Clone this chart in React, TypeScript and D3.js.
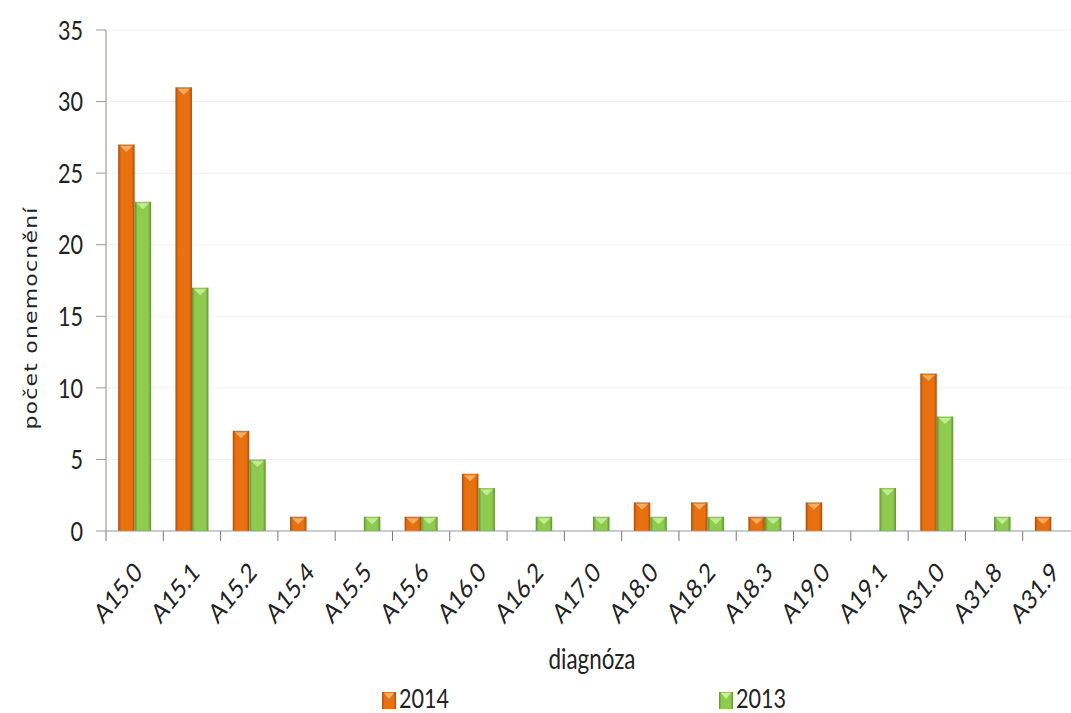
import React from "react";
import * as d3 from "d3";

const categories = ["A15.0","A15.1","A15.2","A15.4","A15.5","A15.6","A16.0","A16.2","A17.0","A18.0","A18.2","A18.3","A19.0","A19.1","A31.0","A31.8","A31.9"];
const values2014 = [27,31,7,1,0,1,4,0,0,2,2,1,2,0,11,0,1];
const values2013 = [23,17,5,0,1,1,3,1,1,1,1,1,0,3,8,1,0];
const yTicks = [0,5,10,15,20,25,30,35];
const seriesNames = ["2014","2013"];

const W = 1071, H = 713;
const left = 106, right = 1080, top = 30, bottom = 531;
const SX = 0.8;

export default function App() {
  const x = d3.scaleBand<string>().domain(categories).range([left, right]).paddingInner(0).paddingOuter(0);
  const y = d3.scaleLinear().domain([0, 35]).range([bottom, top]);
  const bw = 16.5;
  const series = [
    { name: seriesNames[0], values: values2014, id: "or", edge: "#A94E0C", mid: "#E8700F", light: "#F7B26A" },
    { name: seriesNames[1], values: values2013, id: "gr", edge: "#5F9331", mid: "#8FCB4E", light: "#C8F09A" },
  ];
  const font = "Lato, sans-serif";
  return (
    <svg width={W} height={H} style={{ position: "absolute", left: 0, top: 0, background: "#fff" }}>
      <defs>
        {series.map(s => (
          <linearGradient key={s.id} id={"g" + s.id} x1="0" x2="1" y1="0" y2="0">
            <stop offset="0" stopColor={s.edge} />
            <stop offset="0.18" stopColor={s.mid} />
            <stop offset="0.82" stopColor={s.mid} />
            <stop offset="1" stopColor={s.edge} />
          </linearGradient>
        ))}
      </defs>
      <rect x={0} y={0} width={W} height={H} fill="#fff" />
      {yTicks.map(t => (
        <g key={t}>
          {t > 0 && <line x1={left} x2={W} y1={y(t)} y2={y(t)} stroke="#F0F0F0" strokeWidth={1} />}
          <line x1={96} x2={left} y1={y(t)} y2={y(t)} stroke="#999" strokeWidth={1} />
          <text transform={`translate(83,${y(t)}) scale(${SX},1)`} dy="0.36em" textAnchor="end" fontFamily={font} fontSize={27} fill="#222">{t}</text>
        </g>
      ))}
      {categories.map((c, i) => {
        const x0 = x(c)!;
        const cx = x0 + x.bandwidth() / 2;
        return (
          <g key={c}>
            {series.map((s, si) => {
              const v = s.values[i];
              if (v <= 0) return null;
              const bx = cx - bw + si * bw;
              const by = y(v);
              const h = bottom - by;
              const tri = Math.min(6, h / 2);
              return (
                <g key={s.id}>
                  <rect x={bx} y={by} width={bw} height={h} fill={`url(#g${s.id})`} />
                  <polygon points={`${bx + 2},${by + 1.5} ${bx + bw - 2},${by + 1.5} ${bx + bw / 2},${by + 1.5 + tri}`} fill={s.light} opacity={0.9} />
                </g>
              );
            })}
            <line x1={x0} x2={x0} y1={bottom} y2={bottom + 10} stroke="#777" strokeWidth={1} />
            <text transform={`translate(${cx + 9},${bottom + 43}) scale(${SX},1) rotate(-45)`} textAnchor="end" fontFamily={font} fontSize={27} fill="#222">{c}</text>
          </g>
        );
      })}
      <line x1={left} x2={right} y1={bottom} y2={bottom} stroke="#8C9AA6" strokeWidth={1.2} />
      <line x1={left} x2={left} y1={top} y2={bottom} stroke="#A89C94" strokeWidth={1.2} />
      <text transform={`translate(37,318) scale(${SX},1) rotate(-90)`} textAnchor="middle" fontFamily="'DejaVu Sans', sans-serif" fontSize={22} letterSpacing={1.2} fill="#222">počet onemocnění</text>
      <text transform={`translate(592,669) scale(${SX},1)`} textAnchor="middle" fontFamily={font} fontSize={28} fill="#222">diagnóza</text>
      {series.map((s, si) => {
        const lx = si === 0 ? 382 : 719;
        return (
          <g key={s.id}>
            <rect x={lx} y={692} width={14} height={17} fill={`url(#g${s.id})`} />
            <polygon points={`${lx + 2},${693} ${lx + 12},${693} ${lx + 7},${699}`} fill={s.light} />
            <text transform={`translate(${lx + 17},708) scale(${SX},1)`} fontFamily={font} fontSize={27} fill="#222">{s.name}</text>
          </g>
        );
      })}
    </svg>
  );
}
